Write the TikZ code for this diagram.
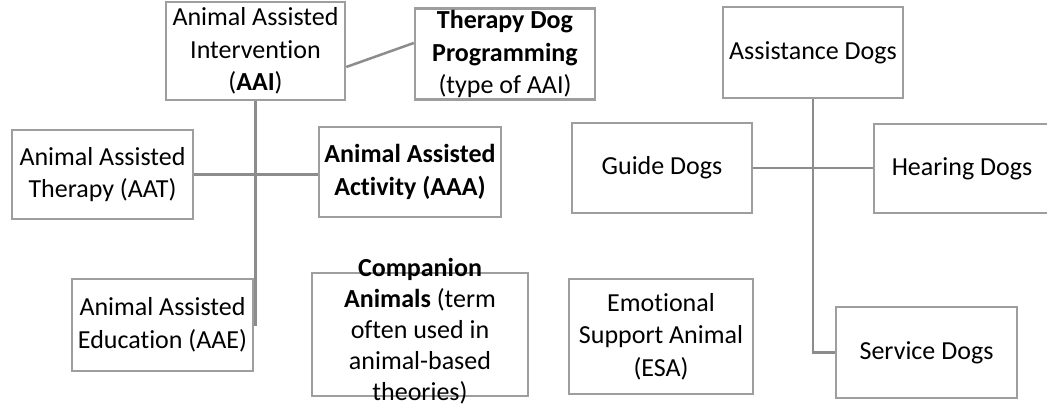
\documentclass[tikz,border=0pt]{standalone}
\usepackage{fontspec}
\setmainfont{Carlito}[Ligatures={NoCommon,NoContextual,NoRequired},Contextuals=NoAlternate]
\definecolor{boxgray}{RGB}{158,158,158}
\definecolor{linegray}{RGB}{140,140,140}
\newcommand{\nt}{t\kern0pt i}
\begin{document}
\begin{tikzpicture}[x=1pt,y=-1pt,
  box/.style={draw=boxgray, line width=2.5pt, rectangle, align=center, inner sep=2pt,
    font=\fontsize{26}{32.5}\selectfont, fill=white},
  txt/.style={align=center, inner sep=0pt, font=\fontsize{26}{31}\selectfont},
  conn/.style={draw=linegray, line width=2.5pt}]
\useasboundingbox (0,0) rectangle (1047,406);
% left group
\node[box, minimum width=179, minimum height=98] (aai) at (255.5,51) {Animal Assisted\\Interven\nt on\\(\textbf{AAI})};
\node[box, minimum width=180, minimum height=90] (tdp) at (505,54) {\textbf{Therapy Dog}\\\textbf{Programming}\\(type of AAI)};
\node[box, minimum width=181, minimum height=89] (aat) at (102.5,174.5) {Animal Assisted\\Therapy (AAT)};
\node[box, minimum width=182, minimum height=90] (aaa) at (410,172) {\textbf{Animal Assisted}\\\textbf{Ac\nt vity (AAA)}};
\node[box, minimum width=181, minimum height=92] (aae) at (162.5,325) {Animal Assisted\\Educa\nt on (AAE)};
\draw[draw=boxgray, line width=2.5pt] (312,273) rectangle (528,396);
\node[txt] (comp) at (420,331) {\textbf{Companion}\\\textbf{Animals} (term\\often used in\\animal-based\\theories)};
\node[box, minimum width=184, minimum height=115] (esa) at (661,336.5) {Emo\nt onal\\Support Animal\\(ESA)};
% right group
\node[box, minimum width=180, minimum height=91] (asd) at (813,52.5) {Assistance Dogs};
\node[box, minimum width=180, minimum height=90] (gd) at (662,168) {Guide Dogs};
\node[box, minimum width=176, minimum height=89] (hd) at (962,168.5) {Hearing Dogs};
\node[box, minimum width=181, minimum height=91] (sd) at (926.5,352.5) {Service Dogs};
% connectors
\draw[conn] ([yshift=-16pt]aai.east) -- ([yshift=11pt]tdp.west);
\draw[conn] (aai.south) -- (aai.south |- aae.east) -- (aae.east);
\draw[conn] (aat.east) -- (aat.east -| aaa.west);
\draw[conn] (asd.south) -- (asd.south |- sd.west) -- (sd.west);
\draw[conn] (gd.east) -- (gd.east -| hd.west);
\end{tikzpicture}
\end{document}
